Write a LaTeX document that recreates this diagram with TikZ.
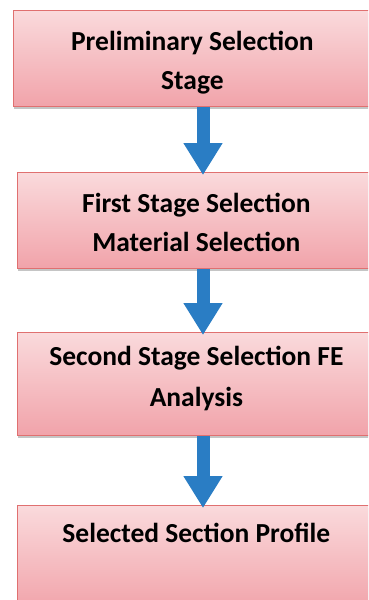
\documentclass[tikz,border=0pt]{standalone}
\usepackage{fontspec}
\setmainfont{Carlito}
\usetikzlibrary{arrows.meta,shadows}
\definecolor{boxtop}{HTML}{FADADC}
\definecolor{boxbot}{HTML}{F1A3AA}
\definecolor{boxline}{HTML}{E07070}
\definecolor{arrowblue}{HTML}{2A7DC4}
\tikzset{
  stagebox/.style={draw=boxline, line width=0.8pt, top color=boxtop, bottom color=boxbot,
    minimum width=358pt, anchor=north west, inner sep=0pt, align=center,
    font=\bfseries\fontsize{27.5}{39}\selectfont,
    drop shadow={shadow xshift=1pt, shadow yshift=-3pt, opacity=0.45}},
  flowarrow/.style={draw=arrowblue, line width=13pt,
    -{Triangle[width=37pt,length=32pt,fill=arrowblue]}, shorten >=-3pt}
}
\begin{document}
\begin{tikzpicture}[x=1pt,y=-1pt]
\useasboundingbox (0,0) rectangle (368,600);
\clip (0,0) rectangle (368,600);
\fill[white] (0,0) rectangle (368,600);
\node[stagebox, minimum height=96pt, text height=68pt, text depth=6pt] (b1) at (13,10) {Preliminary Selection\\Stage};
\node[stagebox, minimum height=96pt, text height=68pt, text depth=6pt] (b2) at (17,172) {First Stage Selection\\Material Selection};
\node[stagebox, minimum height=103pt, text height=52pt, text depth=6pt, font=\bfseries\fontsize{27.5}{41}\selectfont] (b3) at (17,332) {Second Stage Selection FE\\Analysis};
\node[stagebox, text height=37pt, text depth=68pt] (b4) at (17,505) {Selected Section Profile};
\draw[flowarrow] (b1.south -| 203,0) -- (b2.north -| 203,0);
\draw[flowarrow] (b2.south -| 203,0) -- (b3.north -| 203,0);
\draw[flowarrow] (b3.south -| 203,0) -- (b4.north -| 203,0);
\end{tikzpicture}
\end{document}
